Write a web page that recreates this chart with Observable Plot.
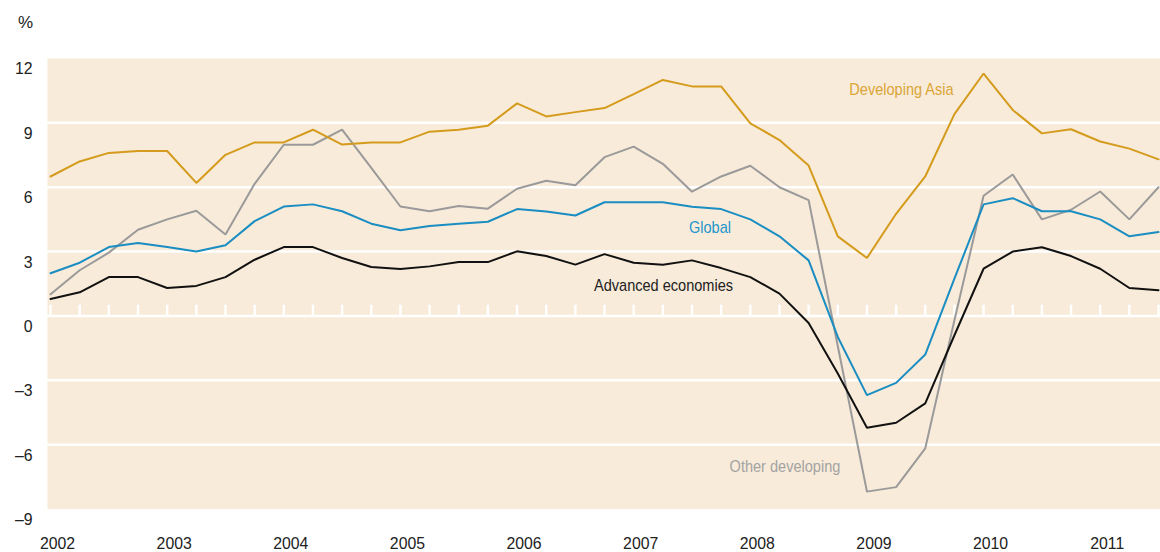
<!DOCTYPE html>
<html><head><meta charset="utf-8">
<script src="https://cdn.jsdelivr.net/npm/d3@7"></script>
<script src="https://cdn.jsdelivr.net/npm/@observablehq/plot@0.6"></script>
<style>
body{margin:0;background:#fff;}
#chart{width:1160px;height:552px;}
</style></head><body><div id="chart"></div>
<script>
const quarters = [
  "2002Q1","2002Q2","2002Q3","2002Q4","2003Q1","2003Q2","2003Q3","2003Q4",
  "2004Q1","2004Q2","2004Q3","2004Q4","2005Q1","2005Q2","2005Q3","2005Q4",
  "2006Q1","2006Q2","2006Q3","2006Q4","2007Q1","2007Q2","2007Q3","2007Q4",
  "2008Q1","2008Q2","2008Q3","2008Q4","2009Q1","2009Q2","2009Q3","2009Q4",
  "2010Q1","2010Q2","2010Q3","2010Q4","2011Q1","2011Q2","2011Q3"
];
const developingAsia = [
  6.50, 7.20, 7.60, 7.69, 7.69, 6.20, 7.51, 8.09,
  8.09, 8.68, 7.99, 8.09, 8.09, 8.59, 8.68, 8.87,
  9.91, 9.30, 9.50, 9.69, 10.34, 11.00, 10.70, 10.70,
  8.98, 8.20, 7.01, 3.71, 2.70, 4.76, 6.50, 9.41,
  11.30, 9.60, 8.51, 8.70, 8.13, 7.80, 7.30
];
const otherDeveloping = [
  1.01, 2.13, 2.95, 4.02, 4.50, 4.90, 3.80, 6.16,
  7.98, 7.98, 8.68, 6.90, 5.10, 4.88, 5.12, 5.00,
  5.93, 6.30, 6.09, 7.40, 7.89, 7.09, 5.79, 6.50,
  7.00, 6.00, 5.40, -1.40, -8.19, -7.98, -6.17, -0.20,
  5.60, 6.59, 4.50, 4.95, 5.80, 4.50, 6.00
];
const globalGrowth = [
  1.99, 2.48, 3.21, 3.40, 3.21, 3.00, 3.29, 4.42,
  5.10, 5.20, 4.88, 4.30, 3.99, 4.19, 4.30, 4.39,
  4.98, 4.87, 4.68, 5.30, 5.30, 5.30, 5.09, 4.98,
  4.50, 3.71, 2.59, -0.98, -3.69, -3.12, -1.80, 1.74,
  5.20, 5.49, 4.88, 4.88, 4.50, 3.71, 3.91
];
const advancedEconomies = [
  0.79, 1.10, 1.81, 1.81, 1.30, 1.40, 1.81, 2.62,
  3.21, 3.21, 2.70, 2.28, 2.19, 2.31, 2.51, 2.51,
  3.01, 2.79, 2.39, 2.88, 2.48, 2.39, 2.59, 2.23,
  1.81, 1.04, -0.33, -2.68, -5.21, -4.98, -4.08, -0.90,
  2.20, 3.00, 3.20, 2.79, 2.20, 1.30, 1.20
];
const seriesNames = ["Other developing", "Global", "Advanced economies", "Developing Asia"];
const seriesColors = ["#9a9a9a", "#1a8dc2", "#111111", "#d49b1c"];
const labelColors = ["#a3a3a3", "#2496cc", "#222222", "#dba537"];
const yTicks = [-9, -6, -3, 0, 3, 6, 9, 12];
const gridValues = [-6, -3, 0, 3, 6, 9];
const yearTicks = [2002, 2003, 2004, 2005, 2006, 2007, 2008, 2009, 2010, 2011];
const seriesLabels = [
  {name: "Developing Asia", t: 2009.296, v: 10.54},
  {name: "Global", t: 2007.654, v: 4.13},
  {name: "Advanced economies", t: 2007.256, v: 1.43},
  {name: "Other developing", t: 2008.297, v: -7.04}
];

const toT = q => +q.slice(0, 4) + (+q.slice(5) - 1) / 4;
const quarterT = quarters.map(toT);
const valuesBySeries = {
  "Other developing": otherDeveloping,
  "Global": globalGrowth,
  "Advanced economies": advancedEconomies,
  "Developing Asia": developingAsia
};
const rows = seriesNames.flatMap(name =>
  quarters.map((q, i) => ({series: name, t: quarterT[i], value: valuesBySeries[name][i]}))
);
const labelColor = Object.fromEntries(seriesNames.map((n, i) => [n, labelColors[i]]));
const font = '"Liberation Sans", Arial, sans-serif';

const chart = Plot.plot({
  width: 1160,
  height: 552,
  marginTop: 58,
  marginBottom: 43.5,
  marginLeft: 47,
  marginRight: 0,
  style: {fontFamily: font, fontSize: "17px", color: "#222", background: "transparent", overflow: "visible"},
  x: {domain: [2001.974, 2011.517], label: null},
  y: {domain: [-9, 12], label: null},
  color: {domain: seriesNames, range: seriesColors},
  marks: [
    Plot.frame({fill: "#f8ebd9", stroke: null}),
    Plot.ruleY(gridValues, {stroke: "white", strokeWidth: 2.5}),
    Plot.ruleX(quarterT, {x: d => d, y1: 0, y2: 0.5, stroke: "white", strokeWidth: 2.5}),
    Plot.line(rows, {x: "t", y: "value", z: "series", stroke: "series", strokeWidth: 2, strokeLinejoin: "miter"}),
    Plot.axisY(yTicks, {tickSize: 0, tickPadding: 15, dy: 10.5, label: null,
      tickFormat: d => d < 0 ? "\u2013" + (-d) : String(d), fontSize: 17, fill: "#222"}),
    Plot.axisX(yearTicks, {tickSize: 0, tickPadding: 28, dx: 7, label: null,
      tickFormat: d => String(d), fontSize: 17, fill: "#222"}),
    Plot.text(seriesLabels, {x: "t", y: "v", text: "name", fill: d => labelColor[d.name],
      fontSize: 17, textAnchor: "middle", lineAnchor: "middle"}),
    Plot.text(["%"], {text: d => d, frameAnchor: "top-left", dx: -22, dy: -36,
      textAnchor: "middle", lineAnchor: "middle", fontSize: 17, fill: "#222"})
  ]
});
document.getElementById("chart").append(chart);

// Emulate the condensed typeface of the original by narrowing the glyphs.
chart.querySelectorAll("text").forEach(el => {
  const s = el.textContent;
  if (s === "%") return;
  const numeric = /^[\d\u2013\-]+$/.test(s);
  const w = el.getComputedTextLength();
  el.setAttribute("textLength", (w * (numeric ? 0.93 : 0.855)).toFixed(2));
  el.setAttribute("lengthAdjust", "spacingAndGlyphs");
});
</script>
</body></html>
